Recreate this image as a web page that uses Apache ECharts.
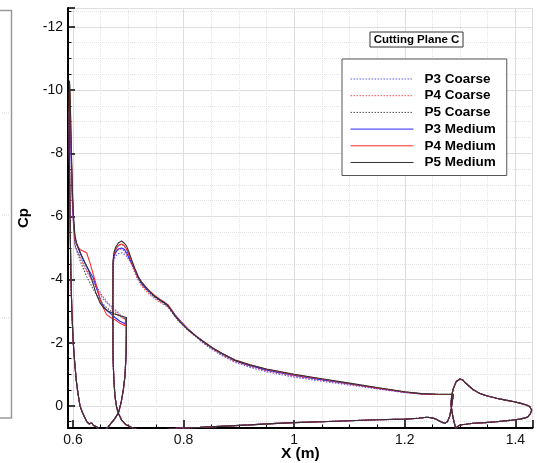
<!DOCTYPE html>
<html><head><meta charset="utf-8">
<script src="https://cdn.jsdelivr.net/npm/echarts@6/dist/echarts.min.js"></script>
<style>html,body{margin:0;padding:0;background:#fff}#c{width:537px;height:463px}</style>
</head><body><div id="c"></div>
<script>
// ---------- DATA ----------
const seriesNames = ['P3 Coarse','P4 Coarse','P5 Coarse','P3 Medium','P4 Medium','P5 Medium'];
const titleText = 'Cutting Plane C';
const xName = 'X (m)';
const yName = 'Cp';

// Slat upper surfaces (LE -> TE), one per series
const slatUpperP3C = [[0.5932,-8.6],[0.5936,-9.0],[0.5945,-8.9],[0.596,-8.2],[0.5975,-7.2],[0.599,-6.3],[0.601,-5.7],[0.6036,-5.05],[0.608,-4.9],[0.614,-4.7],[0.6247,-4.3],[0.635,-4.0],[0.6518,-3.52],[0.662,-3.28],[0.673,-3.1],[0.685,-2.9],[0.6965,-2.72]];
const slatUpperP4C = [[0.5932,-9.0],[0.5936,-9.6],[0.5945,-9.4],[0.596,-8.5],[0.5975,-7.4],[0.599,-6.4],[0.601,-5.75],[0.6036,-5.1],[0.608,-4.9],[0.614,-4.65],[0.6247,-4.25],[0.635,-3.95],[0.6458,-3.63],[0.655,-3.38],[0.6639,-3.21],[0.674,-3.02],[0.685,-2.85],[0.6965,-2.7]];
const slatUpperP5C = [[0.5932,-9.2],[0.5936,-9.8],[0.5945,-9.6],[0.596,-8.6],[0.5975,-7.5],[0.599,-6.5],[0.601,-5.8],[0.6036,-5.1],[0.608,-4.85],[0.614,-4.55],[0.6247,-4.1],[0.635,-3.75],[0.6458,-3.42],[0.658,-3.15],[0.67,-2.99],[0.683,-2.85],[0.6965,-2.75]];
const slatUpperP3M = [[0.5932,-8.8],[0.5936,-9.3],[0.5945,-9.2],[0.596,-8.5],[0.5975,-7.5],[0.599,-6.6],[0.601,-5.85],[0.6035,-5.3],[0.607,-5.1],[0.6127,-4.85],[0.6187,-4.63],[0.627,-4.35],[0.6368,-4.05],[0.644,-3.65],[0.6518,-3.26],[0.659,-3.05],[0.6669,-2.94],[0.676,-2.8],[0.685,-2.68],[0.694,-2.6],[0.6965,-2.58]];
const slatUpperP4M = [[0.5932,-9.2],[0.5936,-10.0],[0.5945,-9.9],[0.596,-8.9],[0.5975,-7.7],[0.599,-6.7],[0.601,-5.9],[0.6035,-5.3],[0.607,-5.1],[0.6127,-4.95],[0.619,-4.9],[0.6247,-4.85],[0.6307,-4.53],[0.637,-4.15],[0.6428,-3.79],[0.6518,-3.21],[0.6608,-2.89],[0.668,-2.8],[0.676,-2.73],[0.685,-2.62],[0.694,-2.54],[0.6965,-2.52]];
const slatUpperP5M = [[0.5932,-9.3],[0.5936,-10.3],[0.5945,-10.1],[0.596,-9.0],[0.5975,-7.8],[0.599,-6.8],[0.601,-6.0],[0.6035,-5.4],[0.6066,-5.16],[0.611,-4.95],[0.616,-4.75],[0.622,-4.52],[0.628,-4.3],[0.634,-4.0],[0.641,-3.6],[0.649,-3.26],[0.656,-3.1],[0.664,-3.0],[0.674,-2.92],[0.684,-2.86],[0.6965,-2.8]];

// Slat lower surface (LE -> TE), common to all series
const slatLower = [[0.5932,-9.3],[0.5935,-8.0],[0.5945,-6.3],[0.5955,-5.0],[0.5964,-4.0],[0.598,-3.0],[0.6005,-2.0],[0.603,-1.4],[0.606,-0.8],[0.609,-0.4],[0.6127,0.0],[0.617,0.2],[0.621,0.36],[0.625,0.5],[0.629,0.57],[0.632,0.58],[0.634,0.54],[0.637,0.62],[0.64,0.6],[0.643,0.66],[0.647,0.75],[0.654,0.8],[0.659,0.75],[0.663,0.68],[0.668,0.57],[0.675,0.42],[0.682,0.23],[0.687,-0.1],[0.691,-0.5],[0.694,-0.95],[0.696,-1.6],[0.6965,-2.3],[0.6965,-2.8]];

// Main element upper surfaces (LE -> TE), one per series
const mainUpperP3C = [[0.6725,-4.35],[0.674,-4.6],[0.677,-4.74],[0.682,-4.82],[0.689,-4.85],[0.695,-4.78],[0.7,-4.66],[0.706,-4.53],[0.712,-4.3],[0.718,-4.08],[0.724,-3.9],[0.733,-3.7],[0.742,-3.52],[0.751,-3.4],[0.76,-3.31],[0.769,-3.2],[0.778,-2.98],[0.79,-2.7],[0.802,-2.5],[0.818,-2.26],[0.833,-2.02],[0.85,-1.8],[0.869,-1.6],[0.893,-1.38],[0.92,-1.22],[0.95,-1.08],[1.0,-0.91],[1.05,-0.78],[1.1,-0.66],[1.15,-0.54],[1.2,-0.42],[1.23,-0.38],[1.26,-0.36],[1.288,-0.36]];
const mainUpperP4C = [[0.6725,-4.45],[0.674,-4.7],[0.677,-4.85],[0.682,-4.95],[0.688,-4.97],[0.693,-4.9],[0.697,-4.8],[0.701,-4.65],[0.706,-4.48],[0.712,-4.2],[0.718,-3.97],[0.724,-3.8],[0.73,-3.68],[0.739,-3.52],[0.748,-3.39],[0.757,-3.28],[0.766,-3.19],[0.772,-3.11],[0.778,-3.0],[0.784,-2.87],[0.795,-2.65],[0.808,-2.42],[0.823,-2.19],[0.839,-1.97],[0.854,-1.79],[0.869,-1.62],[0.893,-1.4],[0.92,-1.25],[0.95,-1.11],[1.0,-0.94],[1.05,-0.81],[1.1,-0.68],[1.15,-0.55],[1.2,-0.43],[1.23,-0.38],[1.26,-0.36],[1.288,-0.36]];
const mainUpperP5C = [[0.6725,-4.5],[0.674,-4.78],[0.677,-4.95],[0.682,-5.08],[0.688,-5.12],[0.693,-5.05],[0.697,-4.94],[0.701,-4.78],[0.706,-4.55],[0.712,-4.28],[0.718,-4.03],[0.724,-3.85],[0.73,-3.72],[0.739,-3.57],[0.748,-3.43],[0.757,-3.32],[0.766,-3.22],[0.772,-3.14],[0.778,-3.0],[0.784,-2.85],[0.795,-2.63],[0.808,-2.4],[0.823,-2.18],[0.839,-1.97],[0.854,-1.8],[0.869,-1.64],[0.893,-1.42],[0.92,-1.27],[0.95,-1.13],[1.0,-0.96],[1.05,-0.83],[1.1,-0.7],[1.15,-0.57],[1.2,-0.44],[1.23,-0.39],[1.26,-0.37],[1.288,-0.37]];
const mainUpperP3M = [[0.6725,-4.5],[0.674,-4.72],[0.677,-4.86],[0.682,-4.97],[0.688,-5.0],[0.693,-4.95],[0.697,-4.85],[0.701,-4.7],[0.706,-4.52],[0.712,-4.28],[0.718,-4.05],[0.724,-3.88],[0.73,-3.75],[0.739,-3.6],[0.748,-3.46],[0.757,-3.35],[0.766,-3.25],[0.772,-3.17],[0.778,-3.05],[0.784,-2.9],[0.795,-2.68],[0.808,-2.44],[0.823,-2.21],[0.839,-2.0],[0.854,-1.82],[0.869,-1.66],[0.893,-1.44],[0.92,-1.28],[0.95,-1.14],[1.0,-0.97],[1.05,-0.83],[1.1,-0.7],[1.15,-0.56],[1.2,-0.43],[1.23,-0.38],[1.26,-0.36],[1.288,-0.36]];
const mainUpperP4M = [[0.6725,-4.55],[0.674,-4.8],[0.677,-4.95],[0.682,-5.08],[0.688,-5.13],[0.693,-5.07],[0.697,-4.97],[0.701,-4.8],[0.706,-4.58],[0.712,-4.3],[0.718,-4.08],[0.724,-3.92],[0.73,-3.8],[0.739,-3.63],[0.748,-3.5],[0.757,-3.38],[0.766,-3.28],[0.772,-3.2],[0.778,-3.05],[0.784,-2.88],[0.795,-2.66],[0.808,-2.42],[0.823,-2.2],[0.839,-2.0],[0.854,-1.82],[0.869,-1.67],[0.893,-1.45],[0.92,-1.3],[0.95,-1.16],[1.0,-0.99],[1.05,-0.85],[1.1,-0.71],[1.15,-0.57],[1.2,-0.44],[1.23,-0.38],[1.26,-0.36],[1.288,-0.36]];
const mainUpperP5M = [[0.6725,-4.6],[0.674,-4.85],[0.677,-5.02],[0.682,-5.16],[0.688,-5.22],[0.693,-5.15],[0.697,-5.06],[0.701,-4.88],[0.706,-4.63],[0.712,-4.35],[0.718,-4.1],[0.724,-3.92],[0.73,-3.79],[0.739,-3.62],[0.748,-3.47],[0.757,-3.36],[0.766,-3.26],[0.772,-3.18],[0.778,-3.02],[0.784,-2.86],[0.795,-2.64],[0.808,-2.41],[0.823,-2.2],[0.839,-1.99],[0.854,-1.82],[0.869,-1.67],[0.893,-1.45],[0.92,-1.3],[0.95,-1.17],[1.0,-1.0],[1.05,-0.86],[1.1,-0.72],[1.15,-0.58],[1.2,-0.45],[1.23,-0.39],[1.26,-0.37],[1.288,-0.37]];

// Main element lower surface (LE -> TE), common
const mainLower = [[0.6722,-3.5],[0.6722,-2.5],[0.6725,-1.5],[0.674,-0.8],[0.676,-0.3],[0.679,0.05],[0.682,0.23],[0.688,0.45],[0.696,0.6],[0.709,0.71],[0.72,0.76],[0.74,0.79],[0.76,0.77],[0.787,0.71],[0.83,0.68],[0.875,0.64],[0.92,0.6],[0.96,0.56],[1.0,0.53],[1.05,0.5],[1.1,0.47],[1.15,0.44],[1.2,0.42],[1.225,0.39],[1.24,0.36],[1.25,0.38],[1.257,0.42],[1.265,0.5],[1.272,0.55],[1.277,0.5],[1.281,0.34],[1.284,0.1],[1.286,-0.15],[1.288,-0.37]];

// Flap surfaces (LE -> TE), common
const flapUpper = [[1.292,0.7],[1.289,0.5],[1.286,0.25],[1.2835,-0.05],[1.285,-0.35],[1.288,-0.55],[1.293,-0.77],[1.3,-0.85],[1.305,-0.82],[1.309,-0.74],[1.316,-0.63],[1.324,-0.51],[1.333,-0.42],[1.342,-0.35],[1.355,-0.29],[1.366,-0.24],[1.38,-0.19],[1.396,-0.14],[1.41,-0.08],[1.42,-0.03],[1.426,0.02],[1.429,0.08],[1.4295,0.13]];
const flapLower = [[1.292,0.7],[1.3,0.6],[1.31,0.58],[1.324,0.55],[1.345,0.53],[1.366,0.5],[1.39,0.46],[1.408,0.42],[1.418,0.38],[1.423,0.34],[1.427,0.25],[1.4295,0.13]];

// ---------- BUILD ----------
const slatUppers = [slatUpperP3C, slatUpperP4C, slatUpperP5C, slatUpperP3M, slatUpperP4M, slatUpperP5M];
const mainUppers = [mainUpperP3C, mainUpperP4C, mainUpperP5C, mainUpperP3M, mainUpperP4M, mainUpperP5M];
const colors = ['#5a5aff', '#ff4a4a', '#505050', '#2828ff', '#ff2a2a', '#333333'];
const dotted = [true, true, true, false, false, false];
const BREAK = [null, null];
const rev = a => a.slice().reverse();
function buildPath(i) {
  return [].concat(
    slatUppers[i], rev(slatLower), [BREAK],
    rev(mainLower), mainUppers[i], [BREAK],
    flapUpper, rev(flapLower)
  );
}
const FONT = 'Liberation Sans, Arial, Helvetica, sans-serif';

const chart = echarts.init(document.getElementById('c'), null, {renderer: 'canvas'});
const series = seriesNames.map((n, i) => ({
  name: n, type: 'line', data: buildPath(i), symbol: 'none', showSymbol: false,
  connectNulls: false, clip: true, silent: true, z: 2 + i,
  lineStyle: {color: colors[i], width: 1.1, type: dotted[i] ? [1.5, 1.5] : 'solid'},
  itemStyle: {color: colors[i]}
}));

const option = {
  animation: false,
  backgroundColor: '#fff',
  grid: {left: 68, right: 4.5, top: 8, bottom: 35, containLabel: false, outerBoundsMode: 'none'},
  legend: {
    show: true, orient: 'vertical', left: 342, top: 59,
    data: seriesNames,
    itemWidth: 63, itemHeight: 14, itemGap: 2.7,
    padding: [13, 11, 6, 8],
    borderColor: '#555', borderWidth: 1, backgroundColor: '#fff',
    selectedMode: false,
    itemStyle: {opacity: 0, borderWidth: 0},
    lineStyle: {width: 1},
    textStyle: {fontFamily: FONT, fontSize: 13.5, fontWeight: 'bold', color: '#000', padding: [0, 0, 0, 6]}
  },
  xAxis: {
    type: 'value', min: 0.591, max: 1.431, splitNumber: 4,
    name: xName, nameLocation: 'middle', nameGap: 18, nameMoveOverlap: false,
    nameTextStyle: {fontFamily: FONT, fontSize: 15.5, fontWeight: 'bold', color: '#000'},
    axisLine: {show: true, onZero: false, lineStyle: {color: '#000', width: 2}},
    axisTick: {show: true, inside: true, length: 8, lineStyle: {color: '#000', width: 1.5}},
    minorTick: {show: true, splitNumber: 4, length: 3.5, lineStyle: {color: '#000', width: 1}},
    axisLabel: {fontFamily: FONT, fontSize: 14, color: '#111', margin: 5, showMinLabel: false, showMaxLabel: false},
    splitLine: {show: true, lineStyle: {color: '#dedede', width: 1}},
    minorSplitLine: {show: true, lineStyle: {color: '#e4e4e4', width: 1, type: 'dotted'}}
  },
  yAxis: {
    type: 'value', inverse: true, min: -12.6, max: 0.7, splitNumber: 6,
    name: yName, nameLocation: 'middle', nameGap: 37, nameRotate: 90, nameMoveOverlap: false,
    nameTextStyle: {fontFamily: FONT, fontSize: 15, fontWeight: 'bold', color: '#000'},
    axisLine: {show: true, onZero: false, lineStyle: {color: '#000', width: 2}},
    axisTick: {show: true, inside: true, length: 7, lineStyle: {color: '#000', width: 1.5}},
    minorTick: {show: true, splitNumber: 4, length: 3.5, lineStyle: {color: '#000', width: 1}},
    axisLabel: {fontFamily: FONT, fontSize: 14, color: '#111', margin: 5, showMinLabel: false, showMaxLabel: false},
    splitLine: {show: true, lineStyle: {color: '#dedede', width: 1}},
    minorSplitLine: {show: true, lineStyle: {color: '#e4e4e4', width: 1, type: 'dotted'}}
  },
  graphic: [
    {type: 'rect', shape: {x: -5, y: 10.5, width: 16.5, height: 407.5}, style: {fill: 'none', stroke: '#9a9a9a', lineWidth: 1.5}, silent: true},
    {type: 'group', silent: true, children: [113, 215, 318].map(y => ({type: 'line', shape: {x1: 2, y1: y, x2: 9, y2: y}, style: {stroke: '#d6d6d6', lineWidth: 1, lineDash: [1, 1]}}))},
    {type: 'rect', shape: {x: 370, y: 32, width: 93, height: 15}, style: {fill: '#fff', stroke: '#333', lineWidth: 1}, z: 10, silent: true},
    {type: 'text', x: 416.5, y: 40, z: 11, silent: true, style: {text: titleText, fontFamily: FONT, fontSize: 11.5, fontWeight: 'bold', fill: '#000', align: 'center', verticalAlign: 'middle'}}
  ],
  series: series
};
chart.setOption(option);
</script>
</body></html>
